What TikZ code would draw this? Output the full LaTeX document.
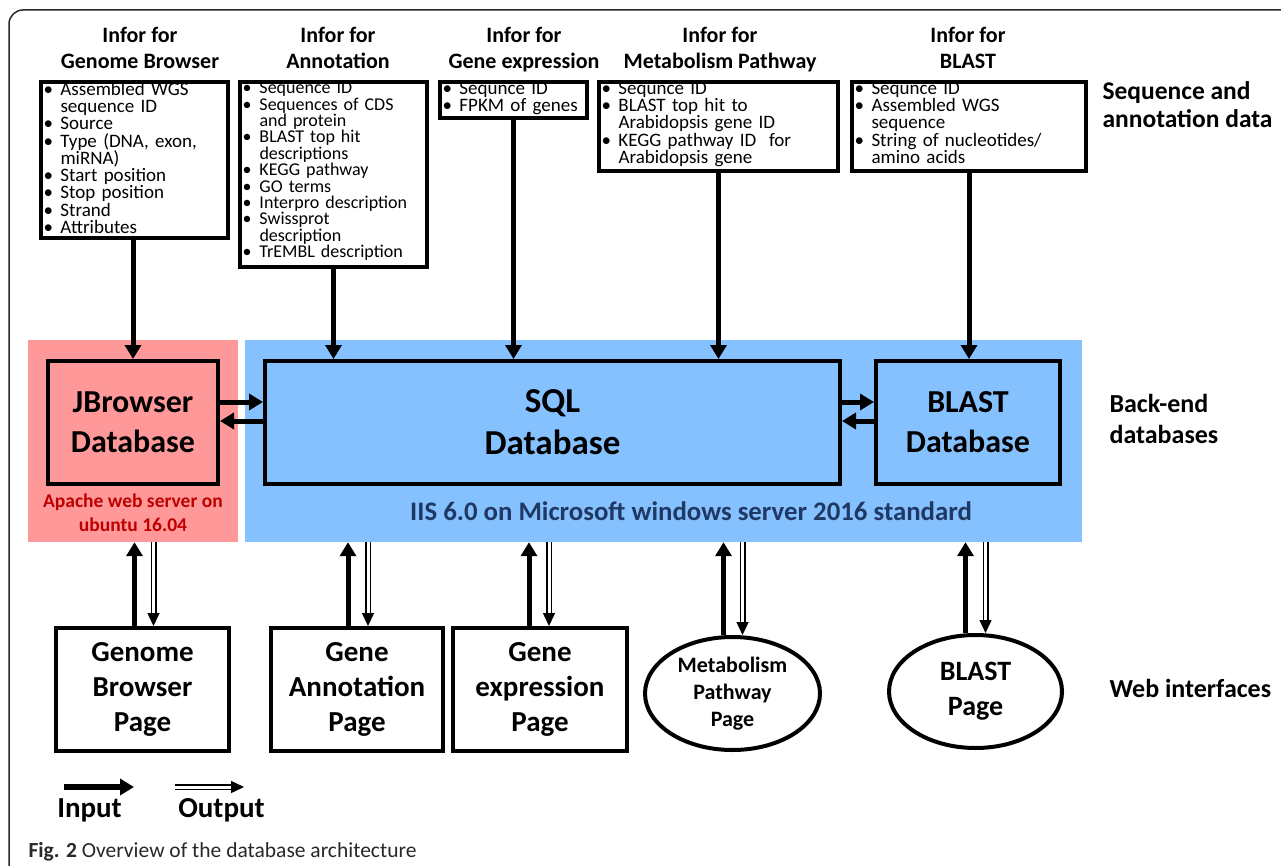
\documentclass[tikz,border=0pt]{standalone}
\usepackage{fontspec}
\setmainfont{Carlito}
\usetikzlibrary{arrows.meta,shapes.geometric}
\definecolor{apachepink}{RGB}{255,153,153}
\definecolor{apachered}{RGB}{192,0,0}
\definecolor{iisblue}{RGB}{133,193,255}
\definecolor{iisnavy}{RGB}{31,56,100}
\definecolor{framegray}{RGB}{40,40,40}
\newcommand{\bul}{\makebox[17pt][l]{\textbullet}}
\newcommand{\ind}{\hspace*{17pt}}
\newcommand{\boxfoot}[1]{\rule[-#1]{0pt}{#1}}

\begin{document}
\begin{tikzpicture}[x=1pt,y=-1pt,
    infobox/.style={draw, line width=4pt, anchor=north west, align=left,
      inner xsep=2.5pt, inner ysep=0pt, font=\fontsize{19}{17.3}\selectfont},
    infohead/.style={anchor=base, align=center, font=\bfseries\fontsize{22}{26}\selectfont},
    region/.style={inner sep=0pt, minimum height=202pt},
    dbbox/.style={draw, line width=4pt, align=center, inner sep=0pt,
      minimum height=123pt, font=\bfseries\fontsize{32}{40}\selectfont},
    pagebox/.style={draw, line width=4pt, fill=white, align=center, inner sep=0pt,
      font=\bfseries\fontsize{29}{35}\selectfont},
    sidelbl/.style={anchor=base west, align=left, font=\bfseries\fontsize{26}{31}\selectfont},
    inarrow/.style={line width=5pt, -{Triangle[length=14pt,width=16pt]}},
    outarrow/.style={line width=1.5pt, double distance=3pt, -{Triangle[length=13pt,width=12pt]}}]
  \useasboundingbox (0,0) rectangle (1281,866);
  \draw[framegray, line width=1.5pt, rounded corners=14pt] (9,866) -- (9,10) -- (1281,10);

  % sequence and annotation data
  \node[infohead] (gbhead) at (140,69) {Infor for\\Genome Browser};
  \node[infohead] (anhead) at (338,69) {Infor for\\Annotation};
  \node[infohead] (gehead) at (524,69) {Infor for\\Gene expression};
  \node[infohead] (mphead) at (720,69) {Infor for\\Metabolism Pathway};
  \node[infohead] (blhead) at (968,69) {Infor for\\BLAST};

  \node[infobox, text width=182pt] (gbinfo) at (39,80) {\bul Assembled WGS\\ \ind sequence ID\\
    \bul Source\\ \bul Type (DNA, exon,\\ \ind miRNA)\\ \bul Start position\\
    \bul Stop position\\ \bul Strand\\ \bul Attributes\boxfoot{4.5pt}};
  \node[infobox, text width=182pt, font=\fontsize{18}{16.4}\selectfont]
    (aninfo) at (238,80) {\bul Sequence ID\\
    \bul Sequences of CDS\\ \ind and protein\\ \bul BLAST top hit\\ \ind descriptions\\
    \bul KEGG pathway\\ \bul GO terms\\ \bul Interpro description\\ \bul Swissprot\\
    \ind description\\ \bul TrEMBL description\boxfoot{9pt}};
  \node[infobox, text width=142pt] (geinfo) at (438,80) {\bul Sequnce ID\\
    \bul FPKM of genes\boxfoot{6pt}};
  \node[infobox, text width=234pt] (mpinfo) at (597,80) {\bul Sequnce ID\\
    \bul BLAST top hit to\\ \ind Arabidopsis gene ID\\ \bul KEGG pathway ID\ \ for\\
    \ind Arabidopsis gene\boxfoot{7pt}};
  \node[infobox, text width=229pt] (blinfo) at (850,80) {\bul Sequnce ID\\
    \bul Assembled WGS\\ \ind sequence\\ \bul String of nucleotides/\\
    \ind amino acids\boxfoot{7pt}};

  \node[sidelbl, font=\bfseries\fontsize{25.5}{28}\selectfont] (seqlbl) at (1099,128)
    {Sequence and\\annotation data};

  % back-end databases
  \node[region, fill=apachepink, minimum width=210pt] (apache) at (133,441) {};
  \node[region, fill=iisblue, minimum width=837pt] (iis) at (663.5,441) {};
  \node[anchor=base, align=center, text=apachered, font=\bfseries\fontsize{19.5}{24}\selectfont]
    (apachetxt) at (133,531) {Apache web server on\\ubuntu 16.04};
  \node[anchor=base, text=iisnavy, font=\bfseries\fontsize{26.8}{30}\selectfont]
    (iistxt) at (691,520) {IIS 6.0 on Microsoft windows server 2016 standard};

  \node[dbbox, fill=apachepink, minimum width=170pt] (jbdb) at (133,422.5) {JBrowser\\Database};
  \node[dbbox, fill=iisblue, minimum width=575pt, font=\bfseries\fontsize{35}{42}\selectfont]
    (sqldb) at (552.5,422.5) {SQL\\Database};
  \node[dbbox, fill=iisblue, minimum width=184pt] (bldb) at (968,422.5) {BLAST\\Database};

  \node[sidelbl] (backlbl) at (1106,443) {Back-end\\databases};

  \draw[inarrow] (gbinfo.south -| jbdb.north) -- (jbdb.north);
  \draw[inarrow] (aninfo.south) -- (aninfo.south |- sqldb.north);
  \draw[inarrow] (geinfo.south) -- (geinfo.south |- sqldb.north);
  \draw[inarrow] (mpinfo.south) -- (mpinfo.south |- sqldb.north);
  \draw[inarrow] (blinfo.south) -- (blinfo.south |- bldb.north);

  \draw[inarrow] (jbdb.east |- 0,402) -- (sqldb.west |- 0,402);
  \draw[inarrow] (sqldb.west |- 0,421) -- (jbdb.east |- 0,421);
  \draw[inarrow] (sqldb.east |- 0,402) -- (bldb.west |- 0,402);
  \draw[inarrow] (bldb.west |- 0,421) -- (sqldb.east |- 0,421);

  % web interfaces
  \node[pagebox, minimum width=173pt, minimum height=123pt] (gbpage) at (142.5,689.5)
    {Genome\\Browser\\Page};
  \node[pagebox, minimum width=172pt, minimum height=123pt] (anpage) at (357,689.5)
    {Gene\\Annotation\\Page};
  \node[pagebox, minimum width=174pt, minimum height=123pt] (expage) at (540,689.5)
    {Gene\\expression\\Page};
  \node[pagebox, ellipse, minimum width=175pt, minimum height=113pt,
    font=\bfseries\fontsize{22}{27}\selectfont] (mppage) at (732.5,693.5)
    {Metabolism\\Pathway\\Page};
  \node[pagebox, ellipse, minimum width=173pt, minimum height=113pt,
    font=\bfseries\fontsize{28}{35}\selectfont] (blpage) at (975.5,691.5) {BLAST\\Page};

  \node[sidelbl] (weblbl) at (1106,697) {Web interfaces};

  \draw[inarrow] ([xshift=-8pt]gbpage.north) -- ([xshift=-8pt]gbpage.north |- apache.south);
  \draw[outarrow] ([xshift=11pt]gbpage.north |- apache.south) -- ([xshift=11pt]gbpage.north);
  \draw[inarrow] ([xshift=-9pt]anpage.north) -- ([xshift=-9pt]anpage.north |- iis.south);
  \draw[outarrow] ([xshift=11pt]anpage.north |- iis.south) -- ([xshift=11pt]anpage.north);
  \draw[inarrow] ([xshift=-11pt]expage.north) -- ([xshift=-11pt]expage.north |- iis.south);
  \draw[outarrow] ([xshift=9pt]expage.north |- iis.south) -- ([xshift=9pt]expage.north);
  \draw[inarrow] ([xshift=-9pt]mppage.north) -- ([xshift=-9pt]mppage.north |- iis.south);
  \draw[outarrow] ([xshift=10pt]mppage.north |- iis.south) -- ([xshift=10pt]mppage.north);
  \draw[inarrow] ([xshift=-10pt]blpage.north) -- ([xshift=-10pt]blpage.north |- iis.south);
  \draw[outarrow] ([xshift=10pt]blpage.north |- iis.south) -- ([xshift=10pt]blpage.north);

  % legend
  \coordinate (inbeg) at (64,787);
  \coordinate (inend) at (134,787);
  \coordinate (outbeg) at (175,787);
  \coordinate (outend) at (244,787);
  \draw[inarrow, line width=6pt] (inbeg) -- (inend);
  \draw[outarrow] (outbeg) -- (outend);
  \node[anchor=base, font=\bfseries\fontsize{29}{35}\selectfont] (inlbl) at (89.5,817) {Input};
  \node[anchor=base, font=\bfseries\fontsize{29}{35}\selectfont] (outlbl) at (221.5,817) {Output};

  \node[anchor=base west, text=framegray, font=\fontsize{21.5}{24}\selectfont] (caption) at (25,857)
    {\textbf{Fig. 2} Overview of the database architecture};
\end{tikzpicture}
\end{document}
